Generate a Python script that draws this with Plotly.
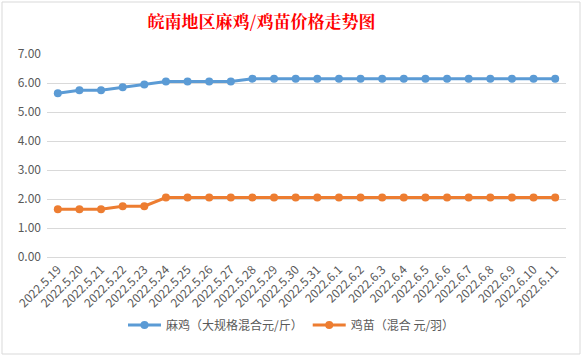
import plotly.graph_objects as go

dates = ["2022.5.19", "2022.5.20", "2022.5.21", "2022.5.22", "2022.5.23", "2022.5.24",
         "2022.5.25", "2022.5.26", "2022.5.27", "2022.5.28", "2022.5.29", "2022.5.30",
         "2022.5.31", "2022.6.1", "2022.6.2", "2022.6.3", "2022.6.4", "2022.6.5",
         "2022.6.6", "2022.6.7", "2022.6.8", "2022.6.9", "2022.6.10", "2022.6.11"]
majiao = [5.65, 5.75, 5.75, 5.85, 5.95, 6.05, 6.05, 6.05, 6.05, 6.15, 6.15, 6.15,
          6.15, 6.15, 6.15, 6.15, 6.15, 6.15, 6.15, 6.15, 6.15, 6.15, 6.15, 6.15]
jimiao = [1.65, 1.65, 1.65, 1.75, 1.75, 2.05, 2.05, 2.05, 2.05, 2.05, 2.05, 2.05,
          2.05, 2.05, 2.05, 2.05, 2.05, 2.05, 2.05, 2.05, 2.05, 2.05, 2.05, 2.05]
name1 = "麻鸡（大规格混合元/斤）"
name2 = "鸡苗（混合 元/羽）"
title = "皖南地区麻鸡/鸡苗价格走势图"

font_fam = "Noto Sans CJK SC, Noto Sans, sans-serif"
gray = "#595959"

fig = go.Figure()
fig.add_trace(go.Scatter(x=dates, y=majiao, name=name1, mode="lines+markers",
                         line=dict(color="#5B9BD5", width=3),
                         marker=dict(color="#5B9BD5", size=8)))
fig.add_trace(go.Scatter(x=dates, y=jimiao, name=name2, mode="lines+markers",
                         line=dict(color="#ED7D31", width=3),
                         marker=dict(color="#ED7D31", size=8)))

fig.update_layout(
    width=583, height=358,
    margin=dict(l=47, r=17, t=54, b=101),
    paper_bgcolor="white", plot_bgcolor="white",
    font=dict(family=font_fam, size=12, color=gray),
    title=dict(text="<b>" + title + "</b>", x=261.5 / 583, xref="container", xanchor="center",
               y=1 - 22 / 358, yref="container", yanchor="middle",
               font=dict(family="Noto Serif CJK SC, Noto Sans CJK SC, serif", size=17, color="#FF0000")),
    showlegend=True,
    legend=dict(orientation="h", x=0.5, xref="container", xanchor="center",
                y=1 - 325 / 358, yref="container", yanchor="middle",
                font=dict(size=12, color=gray), itemwidth=33,
                bgcolor="rgba(0,0,0,0)"),
    hovermode=False,
)
fig.update_xaxes(type="category", tickangle=-45, showgrid=False, showline=True,
                 linecolor="#D9D9D9", linewidth=1, ticks="", tickfont=dict(size=12, color=gray),
                 range=[-0.5, len(dates) - 0.5], automargin=False)
fig.update_yaxes(range=[0, 7], dtick=1, tickformat=".2f", showgrid=True, gridcolor="#D9D9D9",
                 gridwidth=1, zeroline=False, ticks="", showline=False,
                 tickfont=dict(size=12, color=gray), ticklabelstandoff=5, automargin=False)

# chart border
fig.add_shape(type="rect", xref="paper", yref="paper",
              x0=(2 - 47) / (583 - 47 - 17), x1=(580 - 47) / (583 - 47 - 17),
              y0=(257 - 354) / (257 - 54), y1=(257 - 2) / (257 - 54),
              line=dict(color="#D9D9D9", width=1), layer="below")

fig.write_html("out.html", config={"displayModeBar": False},
               post_script="document.body.style.margin='0';document.body.style.overflow='hidden';")
